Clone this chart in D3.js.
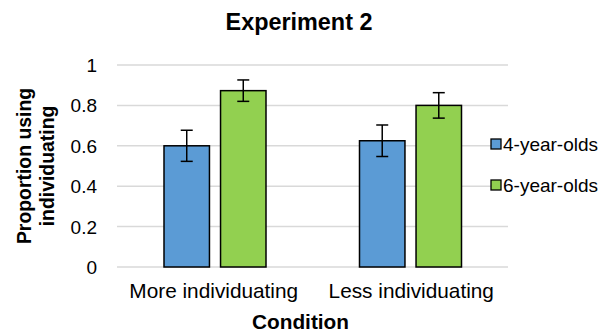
<!DOCTYPE html>
<html><head><meta charset="utf-8">
<script src="https://cdn.jsdelivr.net/npm/d3@7"></script>
<style>body{margin:0;background:#fff}svg{display:block}text{font-family:"Liberation Sans",Arial,sans-serif}</style>
</head><body>
<svg id="c" width="608" height="333"></svg>
<script>
const categories = ["More individuating", "Less individuating"];
const series = ["4-year-olds", "6-year-olds"];
const values4 = [0.60, 0.625];
const values6 = [0.873, 0.80];
const err4 = [0.077, 0.078];
const err6 = [0.053, 0.063];
const yTicks = [0, 0.2, 0.4, 0.6, 0.8, 1];
const colors = ["#5B9BD5", "#92D050"];

const svg = d3.select("#c");
const mLeft = 117, mRight = 508, mTop = 65, mBottom = 267;
const x0 = d3.scaleBand().domain(categories).range([mLeft, mRight]).padding(0);
const x1 = d3.scaleBand().domain(series).range([47, 149]).paddingInner(0.196).paddingOuter(0);
const y = d3.scaleLinear().domain([0, 1]).range([mBottom, mTop]);

// gridlines
svg.append("g").selectAll("line").data(yTicks).join("line")
  .attr("x1", mLeft).attr("x2", mRight)
  .attr("y1", d => y(d)).attr("y2", d => y(d))
  .attr("stroke", "#d9d9d9").attr("stroke-width", 1.5);

// y axis tick labels
const yAxis = d3.axisLeft(y).tickValues(yTicks).tickSize(0).tickPadding(0).tickFormat(d => d3.format("")(d));
const ya = svg.append("g").attr("transform", `translate(97,0)`).call(yAxis);
ya.select(".domain").remove();
ya.selectAll("text").attr("font-size", 19).attr("fill", "#000").attr("font-family", "Liberation Sans, Arial, sans-serif").attr("dy", "0.34em");

const data = categories.map((c, i) => ({cat: c, vals: [
  {s: series[0], v: values4[i], e: err4[i], col: colors[0]},
  {s: series[1], v: values6[i], e: err6[i], col: colors[1]}]}));

const g = svg.append("g").selectAll("g").data(data).join("g")
  .attr("transform", d => `translate(${x0(d.cat)},0)`);
g.selectAll("rect").data(d => d.vals).join("rect")
  .attr("x", d => x1(d.s)).attr("width", x1.bandwidth())
  .attr("y", d => y(d.v)).attr("height", d => y(0) - y(d.v))
  .attr("fill", d => d.col).attr("stroke", "#000").attr("stroke-width", 1.5);
// error bars
const eb = g.selectAll("g.eb").data(d => d.vals).join("g").attr("class", "eb");
eb.append("line").attr("x1", d => x1(d.s) + x1.bandwidth()/2).attr("x2", d => x1(d.s) + x1.bandwidth()/2)
  .attr("y1", d => y(d.v + d.e)).attr("y2", d => y(d.v - d.e)).attr("stroke", "#000").attr("stroke-width", 1.5);
["+", "-"].forEach(sg => {
  eb.append("line").attr("x1", d => x1(d.s) + x1.bandwidth()/2 - 6).attr("x2", d => x1(d.s) + x1.bandwidth()/2 + 6)
    .attr("y1", d => y(sg === "+" ? d.v + d.e : d.v - d.e)).attr("y2", d => y(sg === "+" ? d.v + d.e : d.v - d.e))
    .attr("stroke", "#000").attr("stroke-width", 1.5);
});

// x labels
svg.append("g").selectAll("text").data(categories).join("text")
  .attr("x", (d, i) => x0(d) + x0.bandwidth()/2 + (i === 0 ? -1 : 1)).attr("y", 298)
  .attr("text-anchor", "middle").attr("font-size", 20.8).text(d => d);

// titles
svg.append("text").attr("x", 299).attr("y", 30).attr("text-anchor", "middle")
  .attr("font-size", 23.4).attr("font-weight", "bold").text("Experiment 2");
svg.append("text").attr("x", 300.5).attr("y", 329).attr("text-anchor", "middle")
  .attr("font-size", 20.8).attr("font-weight", "bold").text("Condition");
const yt = svg.append("text").attr("transform", "translate(0,166) rotate(-90)")
  .attr("text-anchor", "middle").attr("font-size", 19.4).attr("font-weight", "bold");
yt.append("tspan").attr("x", 0).attr("y", 31).text("Proportion using");
yt.append("tspan").attr("x", 0).attr("y", 54).text("individuating");

// legend
const lg = svg.append("g").selectAll("g").data(series).join("g")
  .attr("transform", (d, i) => `translate(491,${144 + i * 41})`);
lg.append("rect").attr("x", 0).attr("y", -12).attr("width", 117).attr("height", 24).attr("fill", "#fff");
lg.append("rect").attr("x", 0).attr("y", -5).attr("width", 10).attr("height", 10)
  .attr("fill", (d, i) => colors[i]).attr("stroke", "#000").attr("stroke-width", 1.3);
lg.append("text").attr("x", 12).attr("y", 0).attr("dy", "0.35em").attr("font-size", 19).text(d => d);
</script>
</body></html>
